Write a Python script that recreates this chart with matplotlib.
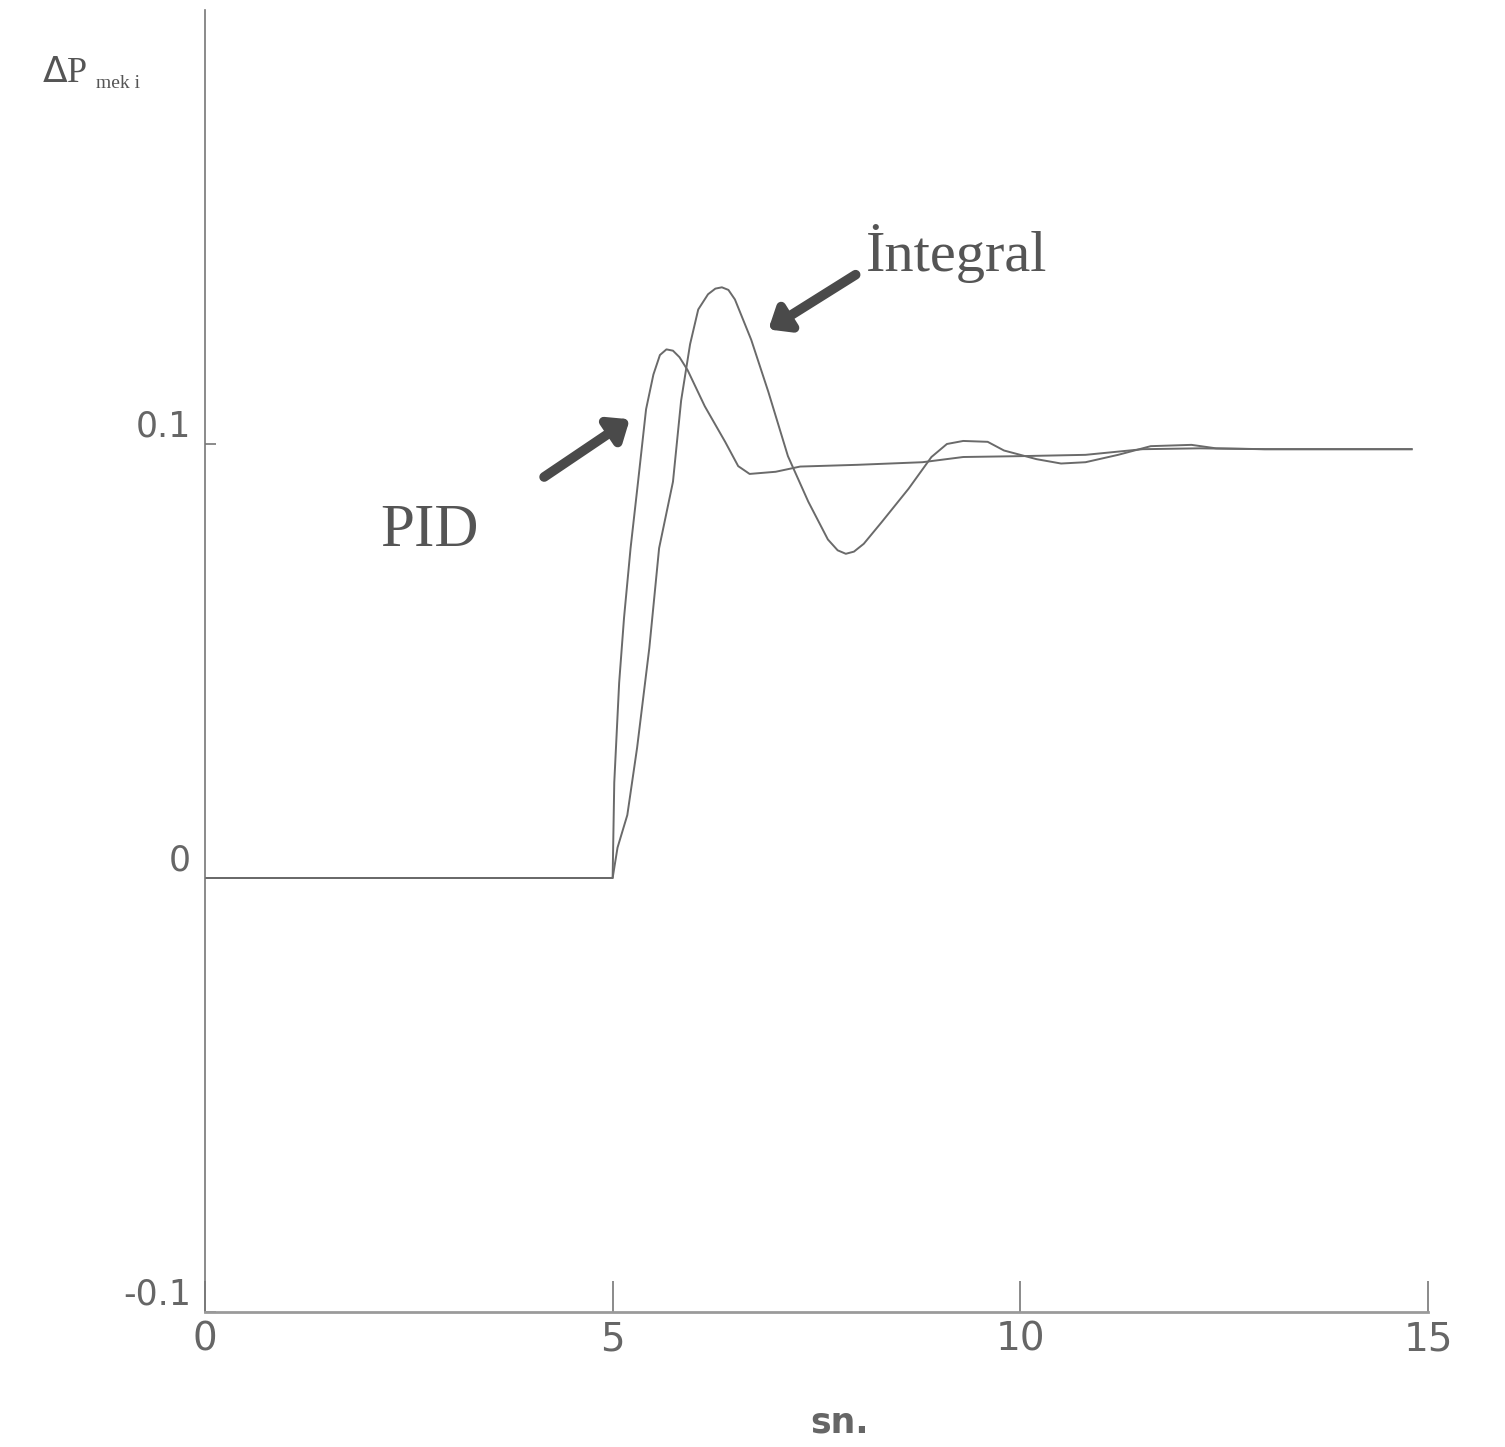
import matplotlib
matplotlib.use("Agg")
import matplotlib.pyplot as plt

# values (time in sn., deviation in pu)
t_pid = [0, 5.0, 5.02, 5.08, 5.14, 5.22, 5.31, 5.41, 5.50, 5.58, 5.66, 5.74, 5.82, 5.92,
         6.13, 6.38, 6.54, 6.68, 7.0, 7.3, 8.0, 8.8, 9.3, 10.0, 10.8, 11.5, 12.2, 13.0, 14.8]
pid = [0, 0, 0.022, 0.045, 0.060, 0.076, 0.091, 0.108, 0.116, 0.1205, 0.1218, 0.1215,
       0.120, 0.117, 0.1087, 0.1005, 0.0949, 0.0931, 0.0936, 0.0948, 0.0952, 0.0958, 0.0970,
       0.0972, 0.0975, 0.0988, 0.0990, 0.0988, 0.0988]

t_int = [0, 5.0, 5.06, 5.18, 5.30, 5.45, 5.57, 5.74, 5.84, 5.95, 6.05, 6.17, 6.26, 6.34,
         6.42, 6.50, 6.70, 6.91, 7.15, 7.40, 7.64, 7.76, 7.86, 7.96, 8.08, 8.30, 8.63, 8.91,
         9.1, 9.3, 9.6, 9.8, 10.2, 10.5, 10.8, 11.2, 11.6, 12.1, 12.4, 13.0, 14.8]
integral = [0, 0, 0.007, 0.0145, 0.030, 0.053, 0.076, 0.0913, 0.110, 0.123, 0.131, 0.1345,
            0.1358, 0.1361, 0.1355, 0.1333, 0.124, 0.112, 0.0972, 0.0867, 0.0780, 0.0755,
            0.0747, 0.0752, 0.0770, 0.082, 0.0897, 0.097, 0.100, 0.1007, 0.1005, 0.0985,
            0.0965, 0.0955, 0.0958, 0.0975, 0.0995, 0.0998, 0.0990, 0.0988, 0.0988]

xticks = [0, 5, 10, 15]
yticks = [-0.1, 0, 0.1]
ylabels = ["-0.1", "0", "0.1"]

fig = plt.figure(figsize=(15.05, 14.47), dpi=100)
ax = fig.add_axes([0.1362, 0.0933, 0.8126, 0.8998])

line_col = "#6a6a6a"
ax.plot(t_pid, pid, color=line_col, lw=1.4)
ax.plot(t_int, integral, color=line_col, lw=1.4)

ax.set_xlim(0, 15)
ax.set_ylim(-0.1, 0.2)

for s in ["top", "right"]:
    ax.spines[s].set_visible(False)
ax.spines["left"].set_color("#777777")
ax.spines["left"].set_linewidth(1.2)
ax.spines["bottom"].set_color("#9a9a9a")
ax.spines["bottom"].set_linewidth(2.0)

ax.set_xticks(xticks)
ax.set_xticklabels([str(v) for v in xticks], fontsize=28, color="#666666")
ax.set_yticks(yticks)
ax.set_yticklabels(ylabels, fontsize=25, color="#666666", va="bottom")
ax.tick_params(axis="x", direction="in", length=22, width=1.2, color="#777777", pad=6)
ax.tick_params(axis="y", direction="in", length=8, width=1.2, color="#777777", pad=10)
for lbl in ax.get_yticklabels():
    lbl.set_y(lbl.get_position()[1])

ax.set_xlabel("sn.", fontsize=25, color="#666666", fontweight="bold")
ax.xaxis.set_label_coords(0.519, -0.072)

fig.text(0.028, 0.943, r"$\Delta$P", fontsize=26, family="Liberation Serif", color="#555555")
fig.text(0.064, 0.939, "mek i", fontsize=14, family="Liberation Serif", color="#555555")

ax.text(2.75, 0.080, "PID", fontsize=44, family="Liberation Serif", color="#555555",
        ha="center", va="center")
ax.text(8.1, 0.144, "İntegral", fontsize=42, family="Liberation Serif", color="#555555",
        ha="left", va="center")

arrow_kw = dict(arrowstyle="-|>,head_length=1.1,head_width=0.9", lw=7, color="#4a4a4a",
                shrinkA=0, shrinkB=0)
ax.annotate("", xy=(5.21, 0.1057), xytext=(4.16, 0.0924), arrowprops=arrow_kw)
ax.annotate("", xy=(6.91, 0.1264), xytext=(7.98, 0.139), arrowprops=arrow_kw)

fig.savefig("out.png", dpi=100, facecolor="white")
